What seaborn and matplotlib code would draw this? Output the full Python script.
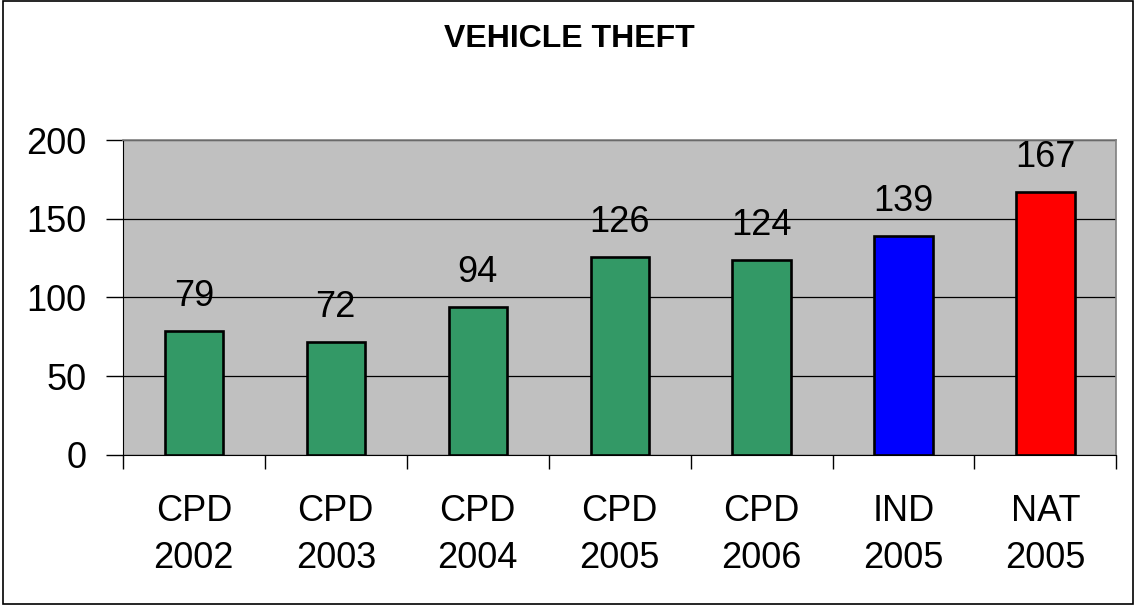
import numpy as np
import pandas as pd
import matplotlib
matplotlib.use("Agg")
import matplotlib.pyplot as plt
import seaborn as sns
from matplotlib.patches import Rectangle

categories = ["CPD\n2002", "CPD\n2003", "CPD\n2004", "CPD\n2005", "CPD\n2006", "IND\n2005", "NAT\n2005"]
values = [79, 72, 94, 126, 124, 139, 167]
bar_colors = ["#339966", "#339966", "#339966", "#339966", "#339966", "#0000FF", "#FF0000"]
y_ticks = [0, 50, 100, 150, 200]

df = pd.DataFrame({"category": categories, "value": values})

sns.set_style("white", {"axes.facecolor": "#C0C0C0"})
plt.rcParams["font.family"] = ["Liberation Sans", "DejaVu Sans"]
plt.rcParams["text.color"] = "black"
plt.rcParams["xtick.color"] = "black"
plt.rcParams["ytick.color"] = "black"

fig = plt.figure(figsize=(11.38, 6.09), dpi=100)
ax = fig.add_axes([0.108, 0.253, 0.873, 0.517])

sns.barplot(data=df, x="category", y="value", hue="category",
            palette=bar_colors, legend=False, width=0.41,
            edgecolor="black", linewidth=1.9, saturation=1, ax=ax, zorder=3)

ax.set_ylim(0, 200)
ax.set_xlim(-0.5, len(categories) - 0.5)
ax.set_yticks(y_ticks)
ax.yaxis.grid(True, color="black", linewidth=0.9, zorder=0)
ax.set_axisbelow(True)
ax.set_xlabel("")
ax.set_ylabel("")

for side in ["top", "right"]:
    ax.spines[side].set_color("#808080")
    ax.spines[side].set_linewidth(1.2)
ax.spines["left"].set_color("black")
ax.spines["bottom"].set_color("black")

ax.tick_params(axis="y", which="major", direction="out", length=12, width=1,
               color="black", labelcolor="black", labelsize=26, pad=14, left=True)
ax.tick_params(axis="x", which="major", length=0, labelsize=26, pad=28,
               labelcolor="black")
ax.set_xticks(np.arange(-0.5, len(categories)), minor=True)
ax.tick_params(axis="x", which="minor", direction="out", length=10, width=1,
               color="black", bottom=True)
for lbl in ax.get_xticklabels():
    lbl.set_linespacing(1.45)

for i, v in enumerate(values):
    ax.annotate(str(v), (i, v), xytext=(0, 12), textcoords="offset points",
                ha="center", va="bottom", fontsize=26, color="black")

fig.text(0.5, 0.936, "VEHICLE THEFT", ha="center", va="center",
         fontsize=23, fontweight="bold", color="black")

fig.patches.append(Rectangle((0.003, 0.008), 0.993, 0.99, transform=fig.transFigure,
                             fill=False, edgecolor="black", linewidth=1.2))

fig.savefig("out.png", dpi=100)
